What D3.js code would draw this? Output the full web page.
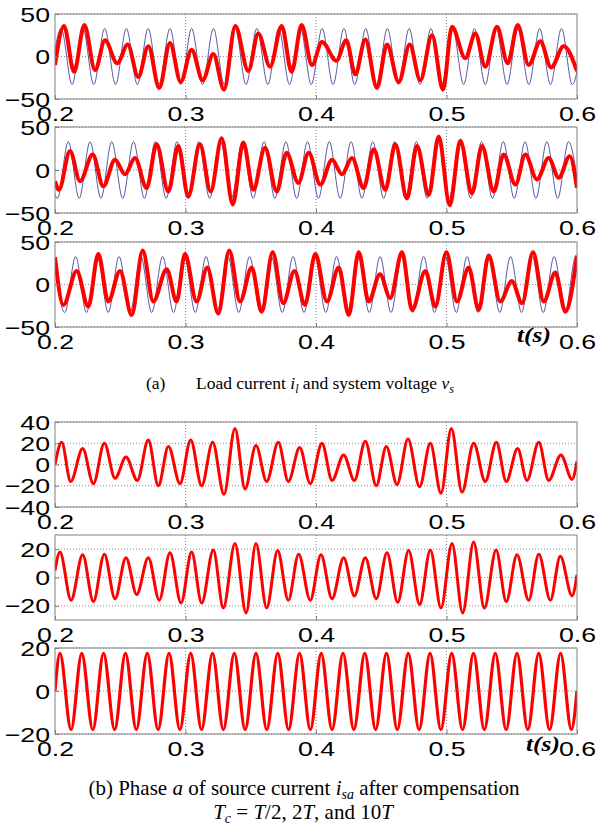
<!DOCTYPE html>
<html>
<head>
<meta charset="UTF-8">
<title>Load current and source current</title>
<style>
  body{ margin:0; background:#fff; }
  .tick text{ font-family:"Liberation Sans", Arial, sans-serif; font-size:21px; fill:#000; }
  .caption{ font-family:"Liberation Serif", "Times New Roman", serif; font-size:17.5px; fill:#000; }
  .captionB{ font-family:"Liberation Serif", "Times New Roman", serif; font-size:21px; fill:#000; }
  .tlabel{ font-family:"Liberation Serif", "Times New Roman", serif; font-size:20px; font-weight:bold; font-style:italic; }
</style>
</head>
<body>
<svg></svg>
<script src="https://cdn.jsdelivr.net/npm/d3@7"></script>
<script>

// ---- data ----
let xTicks = [0.2, 0.3, 0.4, 0.5, 0.6];
let yTicks50 = [-50, 0, 50];
let yTicks40 = [-40, -20, 0, 20, 40];
let yTicks20 = [-20, 0, 20];

// system voltage: amplitude and extremum times of each phase (first one is a peak if sign = 1)
let vsAmp = 33;
let vsSignA = -1;
let vsTimesA = [0.1964,0.2047,0.2131,0.2214,0.2297,0.2381,0.2464,0.2547,0.2631,0.2714,0.2797,0.2881,0.2964,0.3047,0.3131,0.3214,0.3297,0.3381,0.3464,0.3547,0.3631,0.3714,0.3797,0.3881,0.3964,0.4047,0.4131,0.4214,0.4297,0.4381,0.4464,0.4547,0.4631,0.4714,0.4797,0.4881,0.4964,0.5047,0.5131,0.5214,0.5297,0.5381,0.5464,0.5547,0.5631,0.5714,0.5797,0.5881,0.5964,0.6047];
let vsSignB = 1;
let vsTimesB = [0.1935,0.2019,0.2102,0.2185,0.2269,0.2352,0.2435,0.2519,0.2602,0.2685,0.2769,0.2852,0.2935,0.3019,0.3102,0.3185,0.3269,0.3352,0.3435,0.3519,0.3602,0.3685,0.3769,0.3852,0.3935,0.4019,0.4102,0.4185,0.4269,0.4352,0.4435,0.4519,0.4602,0.4685,0.4769,0.4852,0.4935,0.5019,0.5102,0.5185,0.5269,0.5352,0.5435,0.5519,0.5602,0.5685,0.5769,0.5852,0.5935,0.6019];
let vsSignC = 1;
let vsTimesC = [0.1991,0.2075,0.2158,0.2241,0.2325,0.2408,0.2491,0.2575,0.2658,0.2741,0.2825,0.2908,0.2991,0.3075,0.3158,0.3241,0.3325,0.3408,0.3491,0.3575,0.3658,0.3741,0.3825,0.3908,0.3991,0.4075,0.4158,0.4241,0.4325,0.4408,0.4491,0.4575,0.4658,0.4741,0.4825,0.4908,0.4991,0.5075,0.5158,0.5241,0.5325,0.5408,0.5491,0.5575,0.5658,0.5741,0.5825,0.5908,0.5991,0.6075];

// load currents (t, A) at turning points
let ilA = [[0.2000,-10],[0.2069,36],[0.2146,-18],[0.2225,37],[0.2307,-16],[0.2383,19],[0.2477,-8],[0.2557,14],[0.2638,-24],[0.2715,12],[0.2799,-37],[0.2881,16],[0.2963,-30],[0.3047,8],[0.3132,-28],[0.3213,3],[0.3295,-39],[0.3382,36],[0.3481,-17],[0.3558,27],[0.3648,-12],[0.3737,36],[0.3813,-18],[0.3890,37],[0.3969,-10],[0.4046,17],[0.4156,-5],[0.4232,19],[0.4301,-21],[0.4378,20],[0.4467,-37],[0.4544,14],[0.4634,-30],[0.4718,14],[0.4799,-28],[0.4889,25],[0.4973,-39],[0.5042,35],[0.5144,-2],[0.5221,27],[0.5297,-12],[0.5387,35],[0.5469,-8],[0.5546,37],[0.5630,-10],[0.5719,18],[0.5801,-13],[0.5898,12],[0.6000,-17]];
let ilB = [[0.2000,-13],[0.2030,-23],[0.2115,22],[0.2192,-13],[0.2289,18],[0.2370,-19],[0.2460,12],[0.2536,-5],[0.2613,14],[0.2702,-21],[0.2779,30],[0.2868,-25],[0.2945,28],[0.3021,-31],[0.3111,30],[0.3193,-25],[0.3277,37],[0.3362,-40],[0.3443,32],[0.3520,-23],[0.3609,26],[0.3699,-25],[0.3775,20],[0.3864,-15],[0.3944,20],[0.4033,-17],[0.4123,12],[0.4199,-5],[0.4276,14],[0.4365,-21],[0.4442,24],[0.4531,-23],[0.4608,30],[0.4697,-33],[0.4774,28],[0.4864,-29],[0.4940,39],[0.5025,-41],[0.5106,34],[0.5195,-27],[0.5272,28],[0.5362,-25],[0.5438,18],[0.5528,-17],[0.5604,18],[0.5693,-11],[0.5783,14],[0.5860,-9],[0.5944,16],[0.6000,-21]];
let ilC = [[0.2000,32],[0.2064,-24],[0.2166,16],[0.2255,-26],[0.2332,36],[0.2408,-20],[0.2498,16],[0.2588,-36],[0.2672,40],[0.2753,-20],[0.2856,18],[0.2932,-20],[0.2996,36],[0.3085,-20],[0.3167,20],[0.3251,-34],[0.3335,40],[0.3418,-20],[0.3507,20],[0.3584,-32],[0.3668,38],[0.3749,-22],[0.3835,16],[0.3915,-24],[0.3995,36],[0.4084,-20],[0.4174,20],[0.4251,-36],[0.4327,38],[0.4404,-20],[0.4490,12],[0.4569,-16],[0.4659,38],[0.4736,-30],[0.4838,16],[0.4914,-26],[0.4999,38],[0.5080,-20],[0.5170,20],[0.5247,-30],[0.5323,34],[0.5412,-20],[0.5500,4],[0.5579,-22],[0.5663,38],[0.5745,-20],[0.5834,14],[0.5911,-32],[0.6000,34]];

// source current of phase a after compensation, Tc = T/2, 2T, 10T
let isHalfT = [[0.2000,0],[0.2051,21],[0.2120,-16],[0.2212,15],[0.2294,-18],[0.2378,20],[0.2460,-13],[0.2544,7],[0.2631,-15],[0.2715,23],[0.2792,-20],[0.2869,17],[0.2958,-18],[0.3040,23],[0.3124,-20],[0.3208,21],[0.3295,-28],[0.3379,34],[0.3456,-23],[0.3540,18],[0.3622,-16],[0.3711,21],[0.3788,-16],[0.3875,16],[0.3956,-18],[0.4046,20],[0.4123,-15],[0.4212,9],[0.4294,-15],[0.4378,22],[0.4462,-20],[0.4539,17],[0.4621,-19],[0.4705,24],[0.4794,-21],[0.4876,20],[0.4958,-27],[0.5037,34],[0.5119,-26],[0.5208,20],[0.5297,-16],[0.5382,21],[0.5458,-16],[0.5545,15],[0.5617,-15],[0.5707,21],[0.5783,-15],[0.5877,9],[0.5962,-14],[0.6000,3]];
let is2T = [[0.2000,5],[0.2038,18],[0.2123,-16],[0.2212,16],[0.2294,-17],[0.2378,16.5],[0.2460,-15],[0.2544,14],[0.2626,-12],[0.2715,14],[0.2799,-16],[0.2881,17.5],[0.2966,-18],[0.3047,18],[0.3124,-18],[0.3213,19.5],[0.3290,-21.5],[0.3379,24],[0.3464,-25],[0.3540,24],[0.3622,-21.5],[0.3706,19],[0.3788,-16],[0.3867,16.5],[0.3956,-16],[0.4038,16],[0.4123,-15],[0.4212,14],[0.4294,-13],[0.4378,14],[0.4462,-15],[0.4544,17.5],[0.4626,-17.5],[0.4710,19],[0.4794,-19],[0.4876,19.5],[0.4958,-21.5],[0.5042,24],[0.5124,-25],[0.5208,25],[0.5290,-21.5],[0.5380,19.5],[0.5458,-17],[0.5540,16],[0.5630,-16],[0.5707,16.5],[0.5796,-16],[0.5872,15],[0.5962,-13],[0.6000,2]];
let is10T = [[0.2000,0],[0.2038,17.5],[0.2123,-18],[0.2205,17.5],[0.2290,-18],[0.2372,17.5],[0.2457,-18],[0.2540,17.5],[0.2623,-18],[0.2707,17.5],[0.2790,-18],[0.2874,17.5],[0.2957,-18],[0.3040,17.5],[0.3123,-18],[0.3207,17.5],[0.3290,-18],[0.3374,17.5],[0.3457,-18],[0.3540,17.5],[0.3623,-18],[0.3707,17.5],[0.3790,-18],[0.3874,17.5],[0.3957,-18],[0.4040,17.5],[0.4123,-18],[0.4207,17.5],[0.4290,-18],[0.4374,17.5],[0.4457,-18],[0.4540,17.5],[0.4623,-18],[0.4707,17.5],[0.4790,-18],[0.4874,17.5],[0.4957,-18],[0.5040,17.5],[0.5123,-18],[0.5207,17.5],[0.5290,-18],[0.5374,17.5],[0.5457,-18],[0.5540,17.5],[0.5623,-18],[0.5707,17.5],[0.5790,-18],[0.5874,17.5],[0.5957,-18],[0.6000,0]];

// ---- layout ----
let width = 597, height = 827;
let left = 55, right = 577;
let stretch = 1.27;   // the original figure is stretched sideways

let svg = d3.select("svg")
    .attr("width", width)
    .attr("height", height)
    .style("display", "block");

svg.append("rect").attr("width", width).attr("height", height).attr("fill", "#fff");

function voltage(times, sign) {
    return times.map((t, i) => [t, (i % 2 === 0 ? sign : -sign) * vsAmp]);
}

let panels = [
    {top: 14,  bottom: 99,  dom: [-50, 50], ticks: yTicks50, red: ilA, blue: voltage(vsTimesA, vsSignA), w: 4},
    {top: 127, bottom: 213, dom: [-50, 50], ticks: yTicks50, red: ilB, blue: voltage(vsTimesB, vsSignB), w: 4},
    {top: 242, bottom: 327, dom: [-50, 50], ticks: yTicks50, red: ilC, blue: voltage(vsTimesC, vsSignC), w: 4, tlabel: [517, 342]},
    {top: 422, bottom: 507, dom: [-40, 40], ticks: yTicks40, red: isHalfT, w: 3},
    {top: 535, bottom: 620, dom: [-30, 30], ticks: yTicks20, red: is2T, w: 3},
    {top: 648, bottom: 734, dom: [-20, 20], ticks: yTicks20, red: is10T, w: 3.2, tlabel: [526, 751]}
];

let x = d3.scaleLinear().domain([0.2, 0.6]).range([left, right]);

panels.forEach((p, i) => {
    let y = d3.scaleLinear().domain(p.dom).range([p.bottom, p.top]);
    let g = svg.append("g");

    g.append("clipPath").attr("id", "clip" + i)
      .append("rect")
        .attr("x", left).attr("y", p.top)
        .attr("width", right - left).attr("height", p.bottom - p.top);

    // dotted grid
    g.selectAll(".vgrid")
        .data(xTicks.slice(1, -1))
        .enter().append("line")
        .attr("x1", d => x(d)).attr("x2", d => x(d))
        .attr("y1", p.top).attr("y2", p.bottom)
        .attr("stroke", "#8a8a8a").attr("stroke-dasharray", "1,2");
    g.selectAll(".hgrid")
        .data(p.ticks)
        .enter().append("line")
        .attr("x1", left).attr("x2", right)
        .attr("y1", d => y(d)).attr("y2", d => y(d))
        .attr("stroke", "#8a8a8a").attr("stroke-dasharray", "1,2");

    let line = d3.line()
        .x(d => x(d[0]))
        .y(d => y(d[1]))
        .curve(d3.curveMonotoneX);

    let plot = g.append("g").attr("clip-path", "url(#clip" + i + ")");
    if (p.blue) {
        plot.append("path")
            .attr("d", line(p.blue))
            .attr("fill", "none")
            .attr("stroke", "#45459c")
            .attr("stroke-width", 0.9);
    }
    plot.append("path")
        .attr("d", line(p.red))
        .attr("fill", "none")
        .attr("stroke", "#ff0000")
        .attr("stroke-width", p.w)
        .attr("stroke-linejoin", "round");

    // frame
    g.append("rect")
        .attr("x", left).attr("y", p.top)
        .attr("width", right - left).attr("height", p.bottom - p.top)
        .attr("fill", "none")
        .attr("stroke", "#808080")
        .attr("stroke-width", 1);

    // axes
    let xa = g.append("g")
        .attr("transform", "translate(0," + p.bottom + ")")
        .call(d3.axisBottom(x).tickValues(xTicks).tickFormat(d3.format(".1f"))
              .tickSizeInner(-4).tickSizeOuter(0).tickPadding(7));
    xa.select(".domain").remove();
    xa.selectAll("line").attr("stroke", "#808080");
    xa.selectAll("text").attr("transform", "scale(" + stretch + ",1)")
        .attr("x", 0);

    let ya = g.append("g")
        .attr("transform", "translate(" + left + ",0)")
        .call(d3.axisLeft(y).tickValues(p.ticks).tickFormat(d3.format("d"))
              .tickSizeInner(-4).tickSizeOuter(0).tickPadding(5));
    ya.select(".domain").remove();
    ya.selectAll("line").attr("stroke", "#808080");
    ya.selectAll("text")
        .attr("transform", "scale(" + stretch + ",1)")
        .attr("x", -5 / stretch)
        .attr("dy", "0.34em");

    if (p.tlabel) {
        svg.append("text")
            .attr("class", "tlabel")
            .attr("transform", "translate(" + p.tlabel[0] + "," + p.tlabel[1] + ") scale(" + stretch + ",1)")
            .text("t(s)");
    }
});

// captions
let capA = svg.append("text").attr("class", "caption").attr("y", 389);
capA.append("tspan").attr("x", 146).text("(a)");
let capA2 = svg.append("text").attr("class", "caption").attr("x", 196).attr("y", 389);
capA2.append("tspan").text("Load current ");
capA2.append("tspan").attr("font-style", "italic").text("i");
capA2.append("tspan").attr("font-style", "italic").attr("font-size", "12px").attr("dy", 4).text("l");
capA2.append("tspan").attr("dy", -4).text(" and system voltage ");
capA2.append("tspan").attr("font-style", "italic").text("v");
capA2.append("tspan").attr("font-style", "italic").attr("font-size", "12px").attr("dy", 4).text("s");

let capB = svg.append("text").attr("class", "captionB").attr("x", 304).attr("y", 795).attr("text-anchor", "middle");
capB.append("tspan").text("(b) Phase ");
capB.append("tspan").attr("font-style", "italic").text("a");
capB.append("tspan").text(" of source current ");
capB.append("tspan").attr("font-style", "italic").text("i");
capB.append("tspan").attr("font-style", "italic").attr("font-size", "14px").attr("dy", 4).text("sa");
capB.append("tspan").attr("dy", -4).text(" after compensation");

let capC = svg.append("text").attr("class", "captionB").attr("x", 303).attr("y", 819).attr("text-anchor", "middle");
capC.append("tspan").attr("font-style", "italic").text("T");
capC.append("tspan").attr("font-style", "italic").attr("font-size", "14px").attr("dy", 4).text("c");
capC.append("tspan").attr("dy", -4).text(" = ");
capC.append("tspan").attr("font-style", "italic").text("T");
capC.append("tspan").text("/2, 2");
capC.append("tspan").attr("font-style", "italic").text("T");
capC.append("tspan").text(", and 10");
capC.append("tspan").attr("font-style", "italic").text("T");

</script>
</body>
</html>
